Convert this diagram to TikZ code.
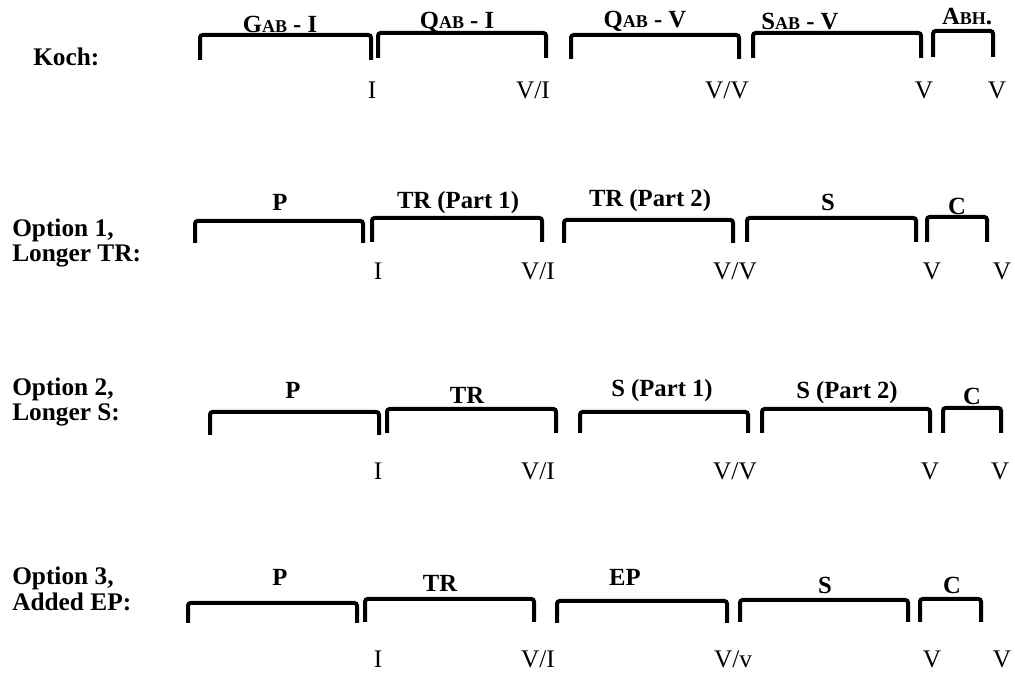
\documentclass[tikz,border=0pt]{standalone}
\usepackage{fontspec}
\setmainfont{Liberation Serif}
\usetikzlibrary{positioning}
\tikzstyle{brace}=[line width=3pt, rounded corners=2pt]
\tikzstyle{phase}=[font=\fontsize{18.5}{20}\selectfont\bfseries, inner sep=0pt]
\tikzstyle{cut}=[font=\fontsize{19}{20}\selectfont, inner sep=0pt]
\tikzstyle{option}=[font=\fontsize{19}{19}\selectfont\bfseries, inner sep=0pt, anchor=west, align=left]
\newcommand{\smc}[1]{{\fontsize{13.5}{14}\selectfont #1}}
\newcommand{\phasebracket}[4]{
	\draw[brace] (#1,#4) -- (#1,#3) -- (#2,#3) -- (#2,#4);
}

\begin{document}
\begin{tikzpicture}[x=0.75pt, y=-0.75pt]
        \useasboundingbox (0,0) rectangle (1015,673);
        %
        % Koch
        \node at (33,57) [option] (koch) {Koch:};
        \phasebracket{200}{371}{35}{60}
        \phasebracket{378}{546}{33}{58}
        \phasebracket{571}{739}{35}{59}
        \phasebracket{753}{921}{33}{58}
        \phasebracket{933}{993}{31}{57}
        \node at (280,24) [phase] (gabi) {G\smc{AB} - I};
        \node at (457,22) [phase] (qabi) {Q\smc{AB} - I};
        \node at (645,21) [phase] (qabv) {Q\smc{AB} - V};
        \node at (800,22) [phase] (sabv) {S\smc{AB} - V};
        \node at (967,17) [phase] (abh) {A\smc{BH}.};
        \node at (372,90) [cut] (k1) {I};
        \node at (533,90) [cut] (k2) {V/I};
        \node at (727,90) [cut] (k3) {V/V};
        \node at (924,90) [cut] (k4) {V};
        \node at (997,90) [cut] (k5) {V};
        %
        % Option 1
        \node at (12,243) [option] (opt1) {Option 1,\\Longer TR:};
        \phasebracket{195}{363}{221}{243}
        \phasebracket{372}{542}{218}{242}
        \phasebracket{564}{733}{220}{243}
        \phasebracket{747}{916}{218}{242}
        \phasebracket{927}{987}{217}{242}
        \node at (280,202) [phase] (p1) {P};
        \node at (458,203) [phase] (tra1) {TR (Part 1)};
        \node at (650,201) [phase] (trb1) {TR (Part 2)};
        \node at (828,202) [phase] (s1) {S};
        \node at (957,206) [phase] (c1) {C};
        \node at (378,271) [cut] (a1) {I};
        \node at (538,271) [cut] (a2) {V/I};
        \node at (735,271) [cut] (a3) {V/V};
        \node at (932,271) [cut] (a4) {V};
        \node at (1002,271) [cut] (a5) {V};
        %
        % Option 2
        \node at (12,402) [option] (opt2) {Option 2,\\Longer S:};
        \phasebracket{210}{379}{412}{435}
        \phasebracket{387}{556}{409}{433}
        \phasebracket{580}{748}{412}{433}
        \phasebracket{762}{930}{409}{433}
        \phasebracket{943}{1001}{408}{433}
        \node at (293,390) [phase] (p2) {P};
        \node at (467,395) [phase] (tr2) {TR};
        \node at (662,391) [phase] (sa2) {S (Part 1)};
        \node at (847,393) [phase] (sb2) {S (Part 2)};
        \node at (972,396) [phase] (c2) {C};
        \node at (378,471) [cut] (b1) {I};
        \node at (538,471) [cut] (b2) {V/I};
        \node at (735,471) [cut] (b3) {V/V};
        \node at (930,471) [cut] (b4) {V};
        \node at (1000,471) [cut] (b5) {V};
        %
        % Option 3
        \node at (12,589) [option] (opt3) {Option 3,\\Added EP:};
        \phasebracket{188}{357}{603}{623}
        \phasebracket{365}{534}{599}{622}
        \phasebracket{557}{727}{601}{623}
        \phasebracket{740}{908}{600}{622}
        \phasebracket{920}{981}{599}{622}
        \node at (280,577) [phase] (p3) {P};
        \node at (440,583) [phase] (tr3) {TR};
        \node at (625,577) [phase] (ep3) {EP};
        \node at (825,585) [phase] (s3) {S};
        \node at (952,585) [phase] (c3) {C};
        \node at (378,659) [cut] (d1) {I};
        \node at (538,659) [cut] (d2) {V/I};
        \node at (733,659) [cut] (d3) {V/v};
        \node at (932,659) [cut] (d4) {V};
        \node at (1002,659) [cut] (d5) {V};
    \end{tikzpicture}
\end{document}
